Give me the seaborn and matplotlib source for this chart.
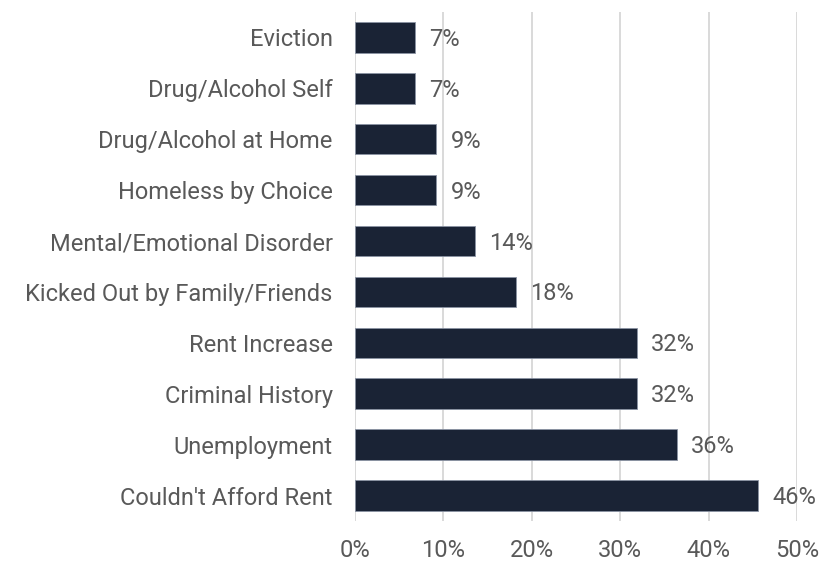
import matplotlib
matplotlib.use("Agg")
import matplotlib.pyplot as plt
import seaborn as sns
import pandas as pd

# reasons and share of respondents (%)
reasons = ["Eviction", "Drug/Alcohol Self", "Drug/Alcohol at Home", "Homeless by Choice",
           "Mental/Emotional Disorder", "Kicked Out by Family/Friends", "Rent Increase",
           "Criminal History", "Unemployment", "Couldn't Afford Rent"]
shares = [6.8, 6.8, 9.2, 9.2, 13.6, 18.2, 31.9, 31.9, 36.4, 45.6]
labels = ["7%", "7%", "9%", "9%", "14%", "18%", "32%", "32%", "36%", "46%"]

data = pd.DataFrame({"Reason": reasons, "Share": shares})

sns.set_style("white")
plt.rcParams["font.family"] = ["Roboto", "DejaVu Sans"]

fig = plt.figure(figsize=(8.23, 5.62), dpi=100)
ax = fig.add_axes([0.4313, 0.073, 0.5371, 0.9057])

sns.barplot(x="Share", y="Reason", data=data, color="#15223a", width=0.6,
            edgecolor="#8a93a3", linewidth=0.6, ax=ax, zorder=3)

for i, (v, lab) in enumerate(zip(shares, labels)):
    ax.text(v + 1.6, i + 0.04, lab, va="center", ha="left", fontsize=17,
            color="#595959")

ax.set_xlim(0, 50)
ax.set_ylim(9.5, -0.5)
ax.set_xticks([0, 10, 20, 30, 40, 50])
ax.set_xticklabels(["0%", "10%", "20%", "30%", "40%", "50%"])
ax.xaxis.grid(True, color="#d9d9d9", linewidth=1.4, zorder=0)
ax.yaxis.grid(False)
ax.set_axisbelow(True)
for s in ax.spines.values():
    s.set_visible(False)
ax.tick_params(axis="both", length=0, labelsize=17, labelcolor="#595959")
ax.tick_params(axis="x", pad=13)
ax.tick_params(axis="y", pad=16)
ax.set_xlabel("")
ax.set_ylabel("")

fig.savefig("out.png", dpi=100)
